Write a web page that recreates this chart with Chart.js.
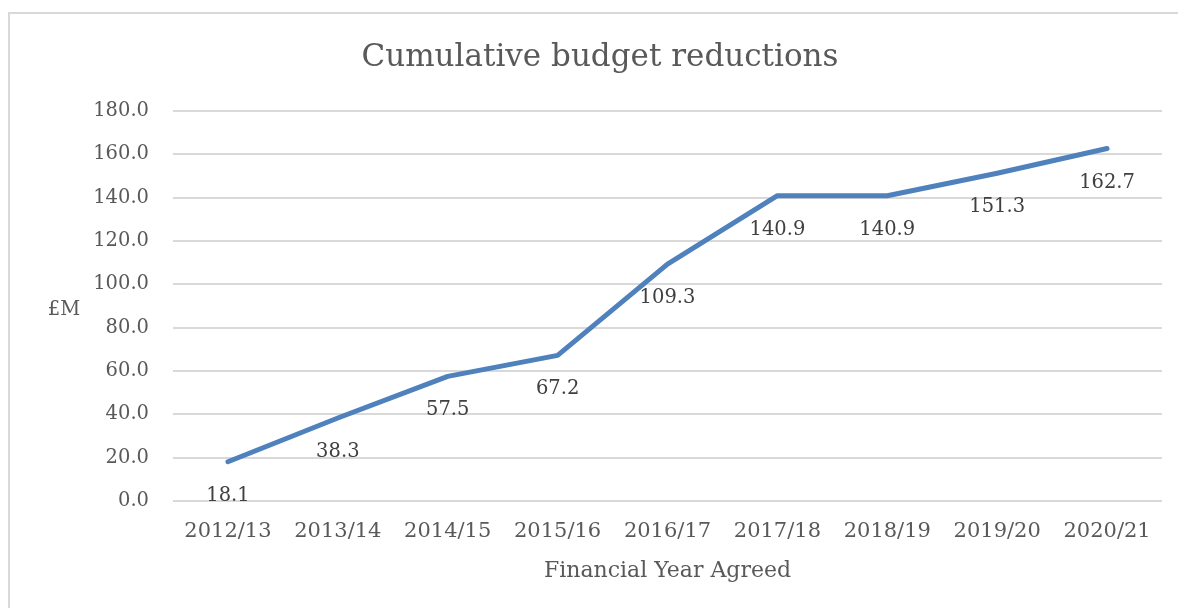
<!DOCTYPE html>
<html>
<head>
<meta charset="utf-8">
<script src="https://cdn.jsdelivr.net/npm/chart.js@4/dist/chart.umd.min.js"></script>
<style>
  html, body { margin: 0; padding: 0; background: #fff; overflow: hidden; }
  #frame { position: absolute; left: 8px; top: 12px; width: 1300px; height: 700px;
           border-left: 2px solid #d9d9d9; border-top: 2px solid #d9d9d9; }
  #wrap { position: absolute; left: 0; top: 0; width: 1178px; height: 608px; }
</style>
</head>
<body>
<div id="frame"></div>
<div id="wrap"><canvas id="chart"></canvas></div>
<script>
const years = ['2012/13', '2013/14', '2014/15', '2015/16', '2016/17', '2017/18', '2018/19', '2019/20', '2020/21'];
const reductions = [18.1, 38.3, 57.5, 67.2, 109.3, 140.9, 140.9, 151.3, 162.7];
const yTicks = [0, 20, 40, 60, 80, 100, 120, 140, 160, 180];
const chartTitle = 'Cumulative budget reductions';

const FONT = '"DejaVu Serif", serif';

// title, value labels under each point, and the horizontal "£M" axis title
const extras = {
    id: 'extras',
    afterDatasetsDraw(chart) {
        const ctx = chart.ctx;
        const meta = chart.getDatasetMeta(0);
        const a = chart.chartArea;
        ctx.save();
        ctx.textAlign = 'center';
        ctx.textBaseline = 'middle';

        ctx.font = '19.5px ' + FONT;
        ctx.fillStyle = '#404040';
        meta.data.forEach((pt, i) => {
            ctx.fillText(reductions[i].toFixed(1), pt.x, pt.y + 34);
        });

        ctx.fillStyle = '#595959';
        ctx.fillText('£M', 64, (a.top + a.bottom) / 2 + 4);

        ctx.font = '31px ' + FONT;
        ctx.fillText(chartTitle, 600, 58);
        ctx.restore();
    }
};

const ctx = document.getElementById('chart').getContext('2d');
new Chart(ctx, {
    type: 'line',
    data: {
        labels: years,
        datasets: [{
            data: reductions,
            borderColor: '#4f81bd',
            borderWidth: 5,
            borderCapStyle: 'round',
            borderJoinStyle: 'round',
            pointRadius: 0,
            tension: 0,
            fill: false
        }]
    },
    options: {
        responsive: true,
        maintainAspectRatio: false,
        animation: false,
        layout: { padding: { top: 111, right: 16, left: 0, bottom: 20 } },
        plugins: {
            legend: { display: false },
            tooltip: { enabled: false },
            title: { display: false }
        },
        scales: {
            x: {
                offset: true,
                grid: { display: false, drawTicks: false },
                border: { display: false },
                ticks: { color: '#595959', font: { family: FONT, size: 21 }, padding: 18, maxRotation: 0 },
                title: {
                    display: true,
                    text: 'Financial Year Agreed',
                    color: '#595959',
                    font: { family: FONT, size: 22 },
                    padding: { top: 6 }
                },
                afterFit(scale) { scale.height = 87; }
            },
            y: {
                min: 0,
                max: 180,
                afterBuildTicks(scale) { scale.ticks = yTicks.map(v => ({ value: v })); },
                grid: { color: '#d9d9d9', lineWidth: 2, drawTicks: false },
                border: { display: false },
                ticks: {
                    color: '#595959',
                    font: { family: FONT, size: 19.5 },
                    padding: 24,
                    callback: v => Number(v).toFixed(1)
                },
                afterFit(scale) { scale.width = 173; }
            }
        }
    },
    plugins: [extras]
});
</script>
</body>
</html>
